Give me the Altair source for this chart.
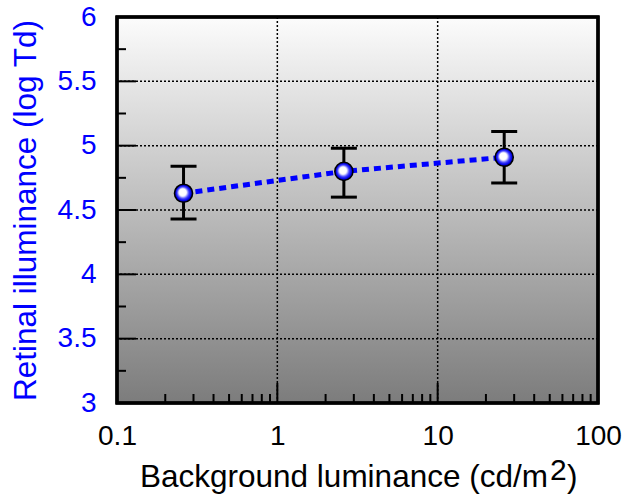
import altair as alt
import pandas as pd

# data
lum = [0.26, 2.6, 26.0]
ret = [4.63, 4.80, 4.91]
ret_lo = [4.43, 4.60, 4.71]
ret_hi = [4.84, 4.98, 5.11]

x_major = [0.1, 1, 10, 100]
x_minor = [0.2, 0.3, 0.4, 0.5, 0.6, 0.7, 0.8, 0.9,
           2, 3, 4, 5, 6, 7, 8, 9,
           20, 30, 40, 50, 60, 70, 80, 90]
y_major = [3, 3.5, 4, 4.5, 5, 5.5, 6]
y_minor = [3.25, 3.75, 4.25, 4.75, 5.25, 5.75]

x_title_parts = ["Background luminance (cd/m", "2", ")"]
y_title = "Retinal illuminance (log Td)"

W, H = 481, 386
FONT = "Liberation Sans"
BLUE = "#0000ff"

df = pd.DataFrame({"x": lum, "y": ret, "lo": ret_lo, "hi": ret_hi})
xmaj = pd.DataFrame({"v": x_major})
xmin = pd.DataFrame({"v": x_minor})
ymaj = pd.DataFrame({"v": y_major})
ymin = pd.DataFrame({"v": y_minor})

xs = alt.Scale(type="log", domain=[0.1, 100], nice=False)
ys = alt.Scale(domain=[3, 6], nice=False, zero=False)

xax = alt.Axis(values=x_major, format="~g", title=None,
               grid=False, ticks=False, domain=False, labelFlush=False,
               labelFont=FONT, labelFontSize=28, labelColor="black",
               labelPadding=19)
yax = alt.Axis(values=y_major, format="~g", title=y_title,
               grid=False, ticks=False, domain=False, labelFlush=False,
               labelFont=FONT, labelFontSize=28, labelColor=BLUE,
               labelPadding=21, titleFont=FONT, titleFontSize=31.5,
               titleFontWeight="normal", titleColor=BLUE, titlePadding=15)


def X(f):
    return alt.X(f, scale=xs, axis=xax, title=None)


def Y(f):
    return alt.Y(f, scale=ys, axis=yax, title=y_title)


bg = alt.Chart(df).mark_rect(
    color=alt.Gradient(
        gradient="linear",
        stops=[alt.GradientStop(color="#fcfcfc", offset=0),
               alt.GradientStop(color="#7c7c7c", offset=1)],
        x1=0, x2=0, y1=0, y2=1),
).encode(x=alt.value(0), x2=alt.value(W), y=alt.value(0), y2=alt.value(H))

grid_x = alt.Chart(xmaj).mark_rule(color="black", strokeWidth=1.5, strokeDash=[2, 2]).encode(
    x=X("v:Q"))
grid_y = alt.Chart(ymaj).mark_rule(color="black", strokeWidth=1.5, strokeDash=[2, 2]).encode(
    y=Y("v:Q"))

tx_major = alt.Chart(xmaj).mark_rule(color="black", strokeWidth=2).encode(
    x=X("v:Q"), y=alt.value(H), y2=alt.value(H - 20))
tx_minor = alt.Chart(xmin).mark_rule(color="black", strokeWidth=2).encode(
    x=X("v:Q"), y=alt.value(H), y2=alt.value(H - 9))
ty_major = alt.Chart(ymaj).mark_rule(color="black", strokeWidth=2).encode(
    y=Y("v:Q"), x=alt.value(0), x2=alt.value(19))
ty_minor = alt.Chart(ymin).mark_rule(color="black", strokeWidth=2).encode(
    y=Y("v:Q"), x=alt.value(0), x2=alt.value(9))

line = alt.Chart(df).mark_line(color=BLUE, strokeWidth=5, strokeDash=[7, 5]).encode(
    x=X("x:Q"), y=Y("y:Q"))

err = alt.Chart(df).mark_rule(color="black", strokeWidth=3).encode(
    x=X("x:Q"), y=Y("lo:Q"), y2="hi:Q")
cap_hi = alt.Chart(df).mark_rule(color="black", strokeWidth=3, xOffset=-13, x2Offset=13).encode(
    x=X("x:Q"), x2="x:Q", y=Y("hi:Q"))
cap_lo = alt.Chart(df).mark_rule(color="black", strokeWidth=3, xOffset=-13, x2Offset=13).encode(
    x=X("x:Q"), x2="x:Q", y=Y("lo:Q"))

pts = alt.Chart(df).mark_point(
    filled=True, size=330, opacity=1, stroke="black", strokeWidth=1.5,
    fill=alt.Gradient(
        gradient="radial",
        stops=[alt.GradientStop(color="#ffffff", offset=0),
               alt.GradientStop(color="#ffffff", offset=0.4),
               alt.GradientStop(color="#4040ff", offset=0.65),
               alt.GradientStop(color="#0000e8", offset=0.85),
               alt.GradientStop(color="#000080", offset=1)],
        x1=0.42, y1=0.42, r1=0, x2=0.5, y2=0.5, r2=0.5),
).encode(x=X("x:Q"), y=Y("y:Q"))

frame = alt.Chart(df).mark_rect(fillOpacity=0, stroke="black", strokeWidth=3).encode(
    x=alt.value(0), x2=alt.value(W), y=alt.value(0), y2=alt.value(H))

# x-axis title with a raised "2"
tdf = pd.DataFrame({"t": [0]})
t_main = alt.Chart(tdf).mark_text(
    text=x_title_parts[0], font=FONT, fontSize=31.5, align="left", baseline="alphabetic",
    color="black").encode(x=alt.value(23), y=alt.value(470))
t_sup = alt.Chart(tdf).mark_text(
    text=x_title_parts[1], font=FONT, fontSize=30, align="left", baseline="alphabetic",
    color="black").encode(x=alt.value(433), y=alt.value(463))
t_close = alt.Chart(tdf).mark_text(
    text=x_title_parts[2], font=FONT, fontSize=31.5, align="left", baseline="alphabetic",
    color="black").encode(x=alt.value(450), y=alt.value(470))

chart = alt.layer(
    bg, grid_x, grid_y, tx_major, tx_minor, ty_major, ty_minor,
    line, err, cap_hi, cap_lo, pts, frame, t_main, t_sup, t_close
).properties(
    width=W, height=H,
    autosize=alt.AutoSizeParams(type="none"),
    padding={"left": 117, "top": 17, "right": 26, "bottom": 94},
).configure_view(stroke=None).configure(background="white")

chart.save("out.html", embed_options={"renderer": "svg", "actions": False})
